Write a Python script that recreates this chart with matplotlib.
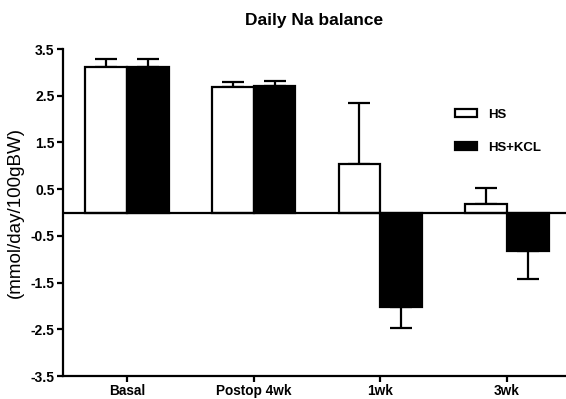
import matplotlib
matplotlib.use("Agg")
import matplotlib.pyplot as plt
import numpy as np

categories = ["Basal", "Postop 4wk", "1wk", "3wk"]
hs = [3.11, 2.69, 1.05, 0.18]
hs_err = [0.17, 0.11, 1.29, 0.34]
kcl = [3.12, 2.70, -2.02, -0.82]
kcl_err = [0.17, 0.11, 0.45, 0.61]
yticks = [3.5, 2.5, 1.5, 0.5, -0.5, -1.5, -2.5, -3.5]

plt.rcParams['font.family'] = ['Liberation Sans', 'DejaVu Sans']

fig = plt.figure(figsize=(5.66, 3.99), dpi=100)
ax = fig.add_axes([0.1113, 0.0576, 0.8887, 0.8194])

x = np.arange(len(categories))
w = 0.33
lw = 1.6

def one_sided(vals, errs):
    lo = [0 if v >= 0 else e for v, e in zip(vals, errs)]
    hi = [e if v >= 0 else 0 for v, e in zip(vals, errs)]
    return [lo, hi]

ax.bar(x - w/2, hs, w, color='white', edgecolor='black', linewidth=lw, label='HS', zorder=2)
ax.bar(x + w/2, kcl, w, color='black', edgecolor='black', linewidth=lw, label='HS+KCL', zorder=2)
ax.errorbar(x - w/2, hs, yerr=one_sided(hs, hs_err), fmt='none', ecolor='black',
            elinewidth=lw, capsize=8, capthick=lw, zorder=1)
ax.errorbar(x + w/2, kcl, yerr=one_sided(kcl, kcl_err), fmt='none', ecolor='black',
            elinewidth=lw, capsize=8, capthick=lw, zorder=1)

ax.axhline(0, color='black', linewidth=lw, zorder=3)

ax.set_xlim(-0.505, 3.465)
ax.set_ylim(-3.5, 3.5)
ax.set_yticks(yticks)
ax.set_yticklabels([f"{t:.1f}" for t in yticks], fontsize=10, fontweight='bold')
ax.set_xticks(x)
ax.set_xticklabels(categories, fontsize=9.8, fontweight='bold')
ax.tick_params(axis='both', width=lw, length=4, direction='out', pad=2)
for s in ['top', 'right']:
    ax.spines[s].set_visible(False)
for s in ['left', 'bottom']:
    ax.spines[s].set_linewidth(lw)

ax.set_ylabel("(mmol/day/100gBW)", fontsize=13.5, labelpad=5)
ax.set_title("Daily Na balance", fontsize=12.5, fontweight='bold', pad=17)

leg = ax.legend(loc='upper left', bbox_to_anchor=(0.779, 0.817), frameon=False,
                prop={'size': 9.5, 'weight': 'bold'}, handlelength=1.67, handleheight=0.6,
                labelspacing=1.57, handletextpad=0.83, borderpad=0, borderaxespad=0)

fig.savefig("out.png", dpi=100)
